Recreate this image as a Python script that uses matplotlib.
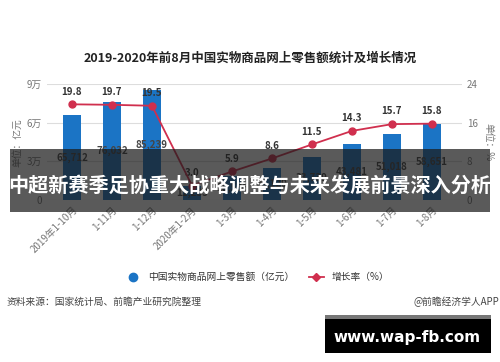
import matplotlib
matplotlib.use("Agg")
from matplotlib import pyplot as plt
from matplotlib.patches import Rectangle
from matplotlib.lines import Line2D

plt.rcParams['font.family'] = ['Noto Sans CJK SC', 'DejaVu Sans']

months = ['2019年1-10月', '1-11月', '1-12月', '2020年1-2月', '1-3月',
          '1-4月', '1-5月', '1-6月', '1-7月', '1-8月']
sales = [65712, 76032, 85239, 11233, 18536, 25129, 33739, 43481, 51018, 58651]
growth = [19.8, 19.7, 19.5, 3.0, 5.9, 8.6, 11.5, 14.3, 15.7, 15.8]

blue = '#1b74c5'
red = '#d02f4e'
grey = '#777777'

fig = plt.figure(figsize=(5, 3.62), dpi=100)
ax = fig.add_axes([0.094, 0.4475, 0.83, 0.3204])
x = list(range(len(months)))

ax.bar(x, sales, width=0.47, color=blue, zorder=2)
for i, v in enumerate(sales):
    ax.text(i, v / 2, f'{v:,}', ha='center', va='center', fontsize=7,
            fontweight='bold', color='#444444', zorder=3)

ax.set_xlim(-0.625, 9.75)
ax.set_ylim(0, 90000)
ax.set_yticks([0, 30000, 60000, 90000])
ax.set_yticklabels(['0', '3万', '6万', '9万'])
ax.grid(axis='y', color='#dddddd', linewidth=0.8, zorder=0)
ax.set_axisbelow(True)
ax.set_xticks(x)
ax.set_xticklabels(months, rotation=45, ha='right', rotation_mode='anchor')
ax.tick_params(length=0, labelsize=7, colors=grey)
for s in ax.spines.values():
    s.set_visible(False)

ax2 = ax.twinx()
ax2.plot(x, growth, color=red, marker='o', markersize=5, linewidth=1.3, zorder=4)
for i, g in enumerate(growth):
    ax2.text(i, g + 1.6, f'{g:.1f}', ha='center', va='bottom', fontsize=7,
             fontweight='bold', color='#333333')
ax2.set_ylim(0, 24)
ax2.set_yticks([0, 8, 16, 24])
ax2.tick_params(length=0, labelsize=7, colors=grey)
for s in ax2.spines.values():
    s.set_visible(False)

fig.text(0.5, 0.84, '2019-2020年前8月中国实物商品网上零售额统计及增长情况',
         ha='center', va='center', fontsize=9, fontweight='bold', color='#222222')
fig.text(0.034, 0.605, '单位：亿元', rotation=90, ha='center', va='center',
         fontsize=7, color=grey)
fig.text(0.976, 0.608, '单位：%', rotation=-90, ha='center', va='center',
         fontsize=7, color=grey)

handles = [Line2D([], [], color=blue, marker='o', linestyle='none', markersize=6),
           Line2D([], [], color=red, marker='D', markersize=4, linewidth=1.3)]
fig.legend(handles, ['中国实物商品网上零售额（亿元）', '增长率（%）'],
           loc='center', bbox_to_anchor=(0.515, 0.235), ncol=2, frameon=False,
           fontsize=7, handlelength=1.5, columnspacing=1.5,
           labelcolor='#333333')

fig.text(0.014, 0.166, '资料来源：国家统计局、前瞻产业研究院整理', ha='left',
         va='center', fontsize=7, color='#444444')
fig.text(0.998, 0.166, '@前瞻经济学人APP', ha='right', va='center',
         fontsize=7, color='#444444')

# overlay banner
fig.add_artist(Rectangle((0.02, 0.4144), 0.96, 0.174, transform=fig.transFigure,
                         facecolor='#1a1a1a', alpha=0.72, edgecolor='none', zorder=10))
fig.text(0.5, 0.488, '中超新赛季足协重大战略调整与未来发展前景深入分析',
         ha='center', va='center', fontsize=14.5, fontweight='bold', color='white',
         zorder=11)

# url box
fig.add_artist(Rectangle((0.65, 0.0249), 0.332, 0.105, transform=fig.transFigure,
                         facecolor='black', edgecolor='none', zorder=10))
fig.add_artist(Rectangle((0.65, 0.119), 0.332, 0.011, transform=fig.transFigure,
                         facecolor='#777777', edgecolor='none', zorder=11))
fig.text(0.814, 0.069, 'www.wap-fb.com', ha='center', va='center', fontsize=11,
         fontweight='bold', color='white', family='DejaVu Sans', zorder=12)

fig.savefig('out.png', dpi=100)
